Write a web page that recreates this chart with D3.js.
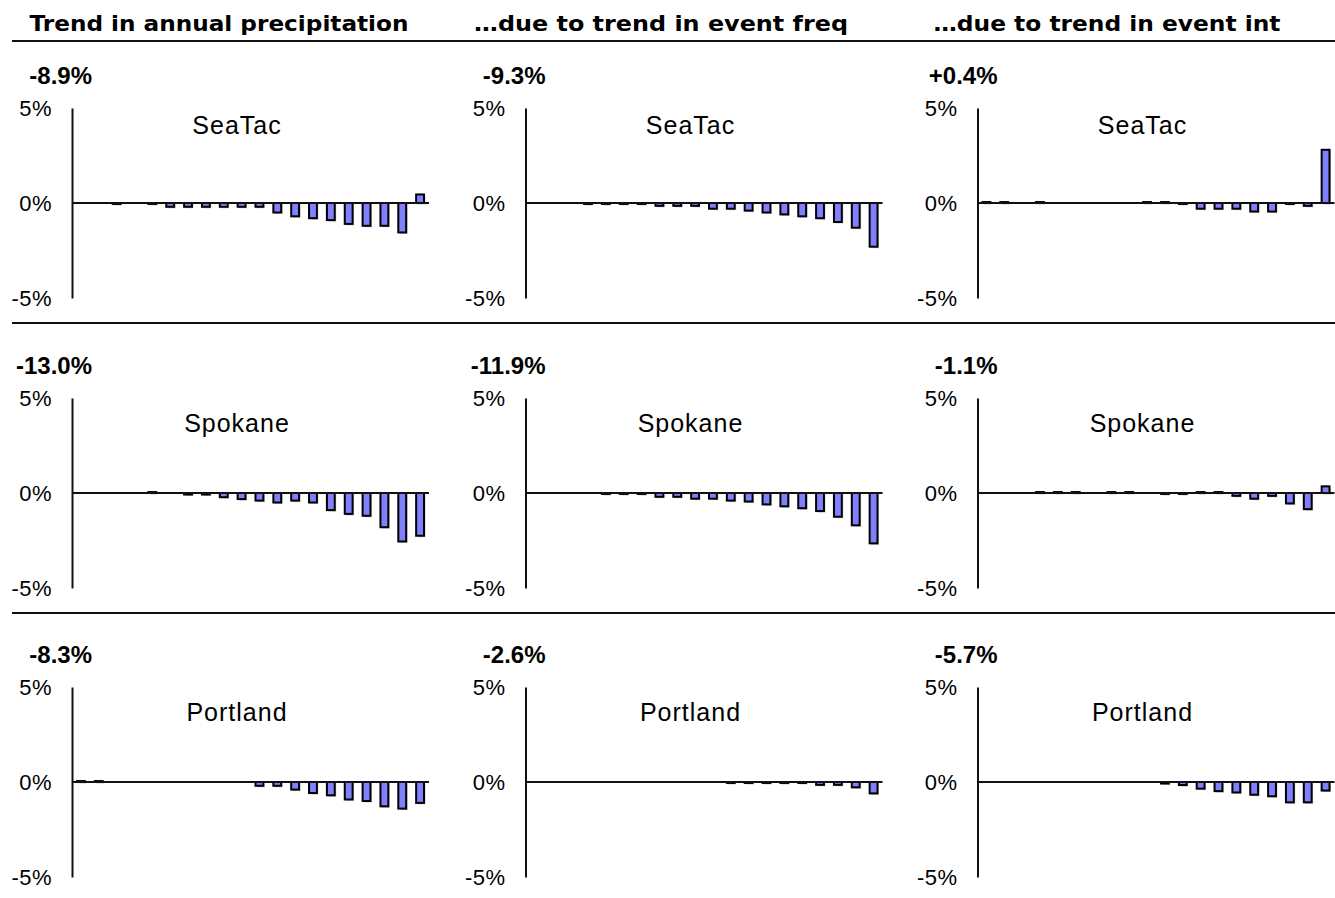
<!DOCTYPE html>
<html>
<head>
<meta charset="utf-8">
<script src="https://cdn.jsdelivr.net/npm/d3@7"></script>
<style>
  html, body { margin: 0; padding: 0; background: #fff; }
  svg { display: block; }
</style>
</head>
<body>
<svg id="chart" width="1335" height="898"></svg>
<script>
// Event-size bins (smallest to largest), shared by every panel
const bins = [1, 2, 3, 4, 5, 6, 7, 8, 9, 10, 11, 12, 13, 14, 15, 16, 17, 18, 19, 20];

const stations = ["SeaTac", "Spokane", "Portland"];
const columnTitles = [
  "Trend in annual precipitation",
  "\u2026due to trend in event freq",
  "\u2026due to trend in event int"
];

// Overall trend per station, for each column
const totalTrend = ["-8.9%", "-13.0%", "-8.3%"];
const freqTrend  = ["-9.3%", "-11.9%", "-2.6%"];
const intTrend   = ["+0.4%", "-1.1%", "-5.7%"];

const yTicks = [5, 0, -5];
const yTickLabels = ["5%", "0%", "-5%"];

// Contribution of each bin to the trend (% of annual precipitation)
const seatacTotal = [0, 0, -0.05, 0, -0.05, -0.2, -0.2, -0.2, -0.2, -0.2, -0.2, -0.5, -0.7, -0.8, -0.9, -1.1, -1.2, -1.2, -1.55, 0.45];
const seatacFreq  = [0, 0, 0, -0.05, -0.05, -0.05, -0.05, -0.15, -0.15, -0.15, -0.3, -0.3, -0.4, -0.5, -0.6, -0.7, -0.8, -1.0, -1.3, -2.3];
const seatacInt   = [0.05, 0.05, 0, 0.05, 0, 0, 0, 0, 0, 0.05, 0.05, -0.05, -0.3, -0.3, -0.3, -0.45, -0.45, -0.05, -0.15, 2.8];

const spokaneTotal = [0, 0, 0, 0, 0.05, 0, -0.08, -0.08, -0.22, -0.32, -0.4, -0.5, -0.4, -0.5, -0.9, -1.1, -1.2, -1.8, -2.55, -2.25];
const spokaneFreq  = [0, 0, 0, 0, -0.05, -0.05, -0.05, -0.2, -0.2, -0.3, -0.3, -0.4, -0.45, -0.6, -0.7, -0.8, -0.95, -1.25, -1.7, -2.65];
const spokaneInt   = [0, 0, 0, 0.05, 0.05, 0.05, 0, 0.05, 0.05, 0, -0.05, -0.05, 0.05, 0.05, -0.15, -0.3, -0.15, -0.55, -0.85, 0.35];

const portlandTotal = [0.05, 0.05, 0, 0, 0, 0, 0, 0, 0, 0, -0.2, -0.2, -0.4, -0.58, -0.7, -0.92, -1.0, -1.28, -1.4, -1.1];
const portlandFreq  = [0, 0, 0, 0, 0, 0, 0, 0, 0, 0, 0, -0.05, -0.05, -0.05, -0.05, -0.05, -0.15, -0.15, -0.28, -0.6];
const portlandInt   = [0, 0, 0, 0, 0, 0, 0, 0, 0, 0, -0.08, -0.16, -0.35, -0.48, -0.55, -0.67, -0.75, -1.07, -1.07, -0.45];

const panels = [
  [seatacTotal, seatacFreq, seatacInt],
  [spokaneTotal, spokaneFreq, spokaneInt],
  [portlandTotal, portlandFreq, portlandInt]
];
const trendLabels = [totalTrend, freqTrend, intTrend];

// ---- layout ----
const axisX = [72, 525.5, 977.5];
const titleX = [219, 661, 1107];
const zeroY = [203, 493, 782];
const nameOffset = [78, 70, 70];
const plotW = 357;
const halfH = 95;
const barFill = "#8080ff";

const svg = d3.select("#chart");

// column titles and rule beneath them
svg.selectAll("text.coltitle")
  .data(columnTitles)
  .join("text")
  .attr("class", "coltitle")
  .attr("x", (d, i) => titleX[i])
  .attr("y", 31)
  .attr("text-anchor", "middle")
  .attr("font-family", "DejaVu Sans, Verdana, sans-serif")
  .attr("font-weight", "bold")
  .attr("font-size", 22)
  .attr("textLength", (d, i) => [379, 374, 347][i])
  .attr("lengthAdjust", "spacingAndGlyphs")
  .attr("fill", "#000")
  .text(d => d);

svg.append("line")
  .attr("x1", 12).attr("x2", 1335)
  .attr("y1", 41).attr("y2", 41)
  .attr("stroke", "#111").attr("stroke-width", 2);

// row separators
[0, 1].forEach(r => {
  svg.append("line")
    .attr("x1", 12).attr("x2", 1335)
    .attr("y1", zeroY[r] + 120).attr("y2", zeroY[r] + 120)
    .attr("stroke", "#111").attr("stroke-width", 2);
});

const x = d3.scaleBand()
  .domain(bins)
  .range([0, plotW])
  .paddingInner(0.56)
  .paddingOuter(0.28);

stations.forEach((station, r) => {
  const y = d3.scaleLinear()
    .domain([-5, 5])
    .range([zeroY[r] + halfH, zeroY[r] - halfH]);

  panels[r].forEach((values, c) => {
    const g = svg.append("g")
      .attr("transform", `translate(${axisX[c]},0)`);

    // bin bars (zero-valued bins are left empty)
    const rows = bins.map((b, i) => ({ bin: b, v: values[i] })).filter(d => d.v !== 0);

    g.selectAll("rect.shadow")
      .data(rows)
      .join("rect")
      .attr("class", "shadow")
      .attr("x", d => x(d.bin) + 1.5)
      .attr("y", d => Math.min(y(d.v), y(0)) + 1.5)
      .attr("width", x.bandwidth())
      .attr("height", d => Math.abs(y(d.v) - y(0)))
      .attr("fill", "#c9c9c9");

    g.selectAll("rect.bar")
      .data(rows)
      .join("rect")
      .attr("class", "bar")
      .attr("x", d => x(d.bin))
      .attr("y", d => Math.min(y(d.v), y(0)))
      .attr("width", x.bandwidth())
      .attr("height", d => Math.abs(y(d.v) - y(0)))
      .attr("fill", barFill)
      .attr("stroke", "#000")
      .attr("stroke-width", 2);

    // zero line
    g.append("line")
      .attr("x1", 0).attr("x2", plotW)
      .attr("y1", y(0)).attr("y2", y(0))
      .attr("stroke", "#111").attr("stroke-width", 2);

    // vertical axis
    const axis = d3.axisLeft(y)
      .tickValues(yTicks)
      .tickFormat((d, i) => yTickLabels[i])
      .tickSize(0)
      .tickSizeOuter(0)
      .tickPadding(20);
    const ag = g.append("g").call(axis);
    ag.select(".domain").attr("stroke", "#111").attr("stroke-width", 2);
    ag.selectAll("text")
      .attr("font-family", "Liberation Sans, Arial, sans-serif")
      .attr("font-size", 22)
      .attr("letter-spacing", 0.5)
      .attr("fill", "#000");

    // station name
    g.append("text")
      .attr("x", 165)
      .attr("y", y(0) - nameOffset[r])
      .attr("dy", "0.36em")
      .attr("text-anchor", "middle")
      .attr("font-family", "Liberation Sans, Arial, sans-serif")
      .attr("font-size", 25)
      .attr("letter-spacing", 1)
      .attr("fill", "#000")
      .text(station);

    // overall trend
    g.append("text")
      .attr("x", 20)
      .attr("y", y(0) - 128)
      .attr("dy", "0.36em")
      .attr("text-anchor", "end")
      .attr("font-family", "Liberation Sans, Arial, sans-serif")
      .attr("font-weight", "bold")
      .attr("font-size", 24)
      .attr("fill", "#000")
      .text(trendLabels[c][r]);
  });
});
</script>
</body>
</html>
